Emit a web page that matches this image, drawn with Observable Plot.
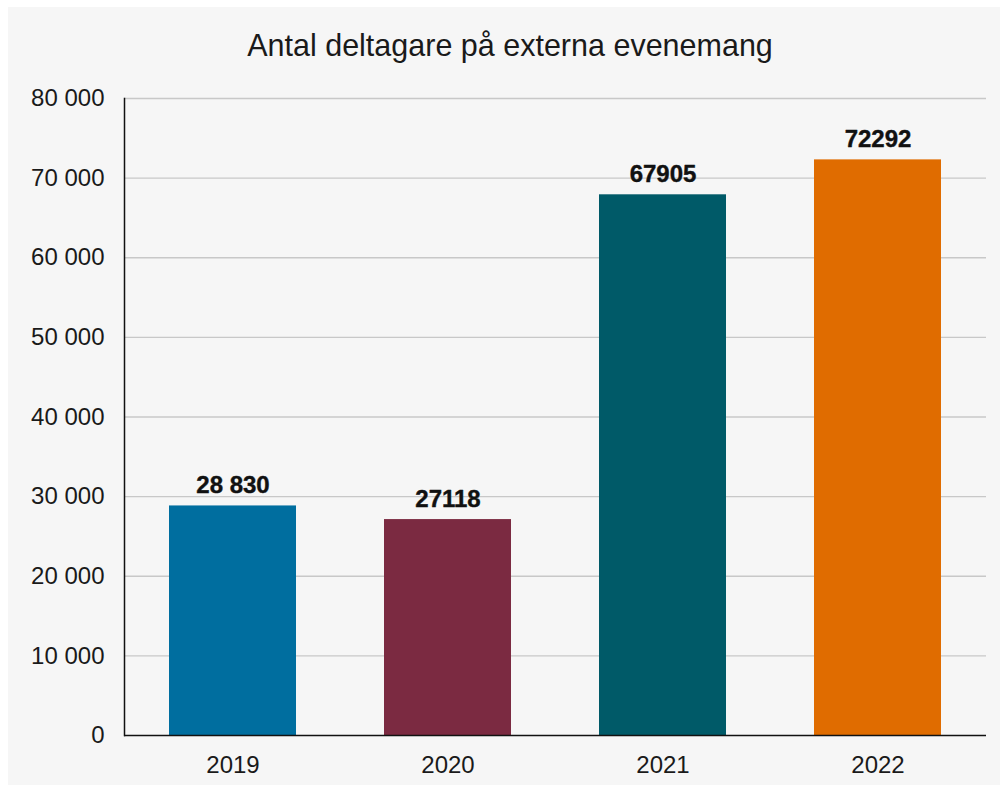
<!DOCTYPE html>
<html>
<head>
<meta charset="utf-8">
<script src="https://cdn.jsdelivr.net/npm/d3@7"></script>
<script src="https://cdn.jsdelivr.net/npm/@observablehq/plot@0.6"></script>
<style>
  html, body { margin: 0; padding: 0; background: #ffffff; }
  #frame {
    position: absolute; left: 8px; top: 7px; width: 992px; height: 778px;
    background: #f6f6f6; font-family: "Liberation Sans", Arial, sans-serif;
  }
  #title {
    height: 73px; box-sizing: border-box; padding-top: 20px; padding-left: 12px;
    text-align: center; font-size: 30.5px; line-height: 36px; color: #1a1a1a;
  }
</style>
</head>
<body>
<div id="frame">
  <div id="title">Antal deltagare på externa evenemang</div>
  <div id="chart"></div>
</div>
<script>
const years = ["2019", "2020", "2021", "2022"];
const values = [28830, 27118, 67905, 72292];
const valueLabels = ["28 830", "27118", "67905", "72292"];
const colors = ["#006e9f", "#7b2a41", "#005a68", "#e06c00"];
const yTicks = [0, 10000, 20000, 30000, 40000, 50000, 60000, 70000, 80000];

const data = years.map((y, i) => ({year: y, value: values[i], label: valueLabels[i], color: colors[i]}));
const fmt = v => d3.format(",")(v).replace(/,/g, " ");

const chart = Plot.plot({
  width: 992,
  height: 705,
  marginTop: 18,
  marginBottom: 50,
  marginLeft: 116,
  marginRight: 14,
  style: {background: "transparent", fontFamily: "'Liberation Sans', Arial, sans-serif", fontSize: "24px", color: "#1a1a1a"},
  x: {domain: years, paddingInner: 0.41, paddingOuter: 0.205, label: null},
  y: {domain: [0, 80000], label: null},
  marks: [
    Plot.ruleY(yTicks.filter(d => d > 0), {stroke: "#c8c8c8", strokeWidth: 1.3}),
    Plot.barY(data, {x: "year", y: "value", fill: "color"}),
    Plot.text(data, {x: "year", y: "value", text: "label", lineAnchor: "bottom", dy: -13, fontWeight: "bold", fontSize: 24, fill: "#111", stroke: "#111", strokeWidth: 0.4}),
    Plot.axisY({ticks: yTicks, tickFormat: fmt, tickSize: 0, tickPadding: 20, fontSize: 24, label: null}),
    Plot.axisX({tickSize: 0, tickPadding: 20, fontSize: 24, label: null}),
    Plot.frame({anchor: "left", stroke: "#111", strokeWidth: 1.5}),
    Plot.ruleY([0], {stroke: "#111", strokeWidth: 1.5})
  ]
});
document.getElementById("chart").appendChild(chart);
</script>
</body>
</html>
